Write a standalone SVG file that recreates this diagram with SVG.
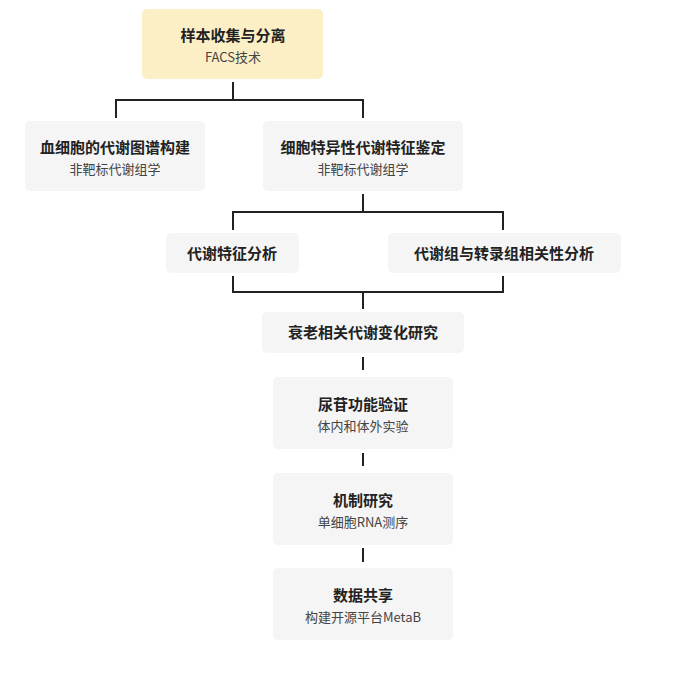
<svg xmlns="http://www.w3.org/2000/svg" width="700" height="677" viewBox="0 0 700 677">
<style>
.n{fill:#f5f5f5}
.t{font-family:"Noto Sans CJK SC","Noto Sans",sans-serif;font-size:15px;font-weight:bold;fill:#222;text-anchor:middle}
.s{font-family:"Noto Sans CJK SC","Noto Sans",sans-serif;font-size:13px;fill:#444;text-anchor:middle}
.c{fill:none;stroke:#222;stroke-width:2}
</style>
<rect width="700" height="677" fill="#fff"/>
<g id="connectors" class="c">
<path d="M233 82V100H116V118M233 100H363V118"/>
<path d="M363 194V212H233V230M363 212H503V230"/>
<path d="M233 276V292H503V276M363 292V309"/>
<path d="M363 357V370M363 453V466M363 548V562"/>
</g>
<g id="n1"><rect x="142" y="9" width="181" height="70" rx="5" fill="#fcefc6"/><text class="t" x="233" y="41">样本收集与分离</text><text class="s" x="233" y="62">FACS技术</text></g>
<g id="n2"><rect class="n" x="25" y="121" width="180" height="70" rx="5"/><text class="t" x="115" y="153">血细胞的代谢图谱构建</text><text class="s" x="115" y="174">非靶标代谢组学</text></g>
<g id="n3"><rect class="n" x="263" y="121" width="200" height="70" rx="5"/><text class="t" x="363" y="153">细胞特异性代谢特征鉴定</text><text class="s" x="363" y="174">非靶标代谢组学</text></g>
<g id="n4"><rect class="n" x="166" y="233" width="133" height="40" rx="5"/><text class="t" x="232" y="259">代谢特征分析</text></g>
<g id="n5"><rect class="n" x="388" y="233" width="233" height="40" rx="5"/><text class="t" x="504" y="259">代谢组与转录组相关性分析</text></g>
<g id="n6"><rect class="n" x="262" y="312" width="202" height="41" rx="5"/><text class="t" x="363" y="338">衰老相关代谢变化研究</text></g>
<g id="n7"><rect class="n" x="273" y="377" width="180" height="72" rx="5"/><text class="t" x="363" y="410">尿苷功能验证</text><text class="s" x="363" y="431">体内和体外实验</text></g>
<g id="n8"><rect class="n" x="273" y="473" width="180" height="72" rx="5"/><text class="t" x="363" y="506">机制研究</text><text class="s" x="363" y="527">单细胞RNA测序</text></g>
<g id="n9"><rect class="n" x="273" y="568" width="180" height="72" rx="5"/><text class="t" x="363" y="601">数据共享</text><text class="s" x="363" y="622">构建开源平台MetaB</text></g>
</svg>
